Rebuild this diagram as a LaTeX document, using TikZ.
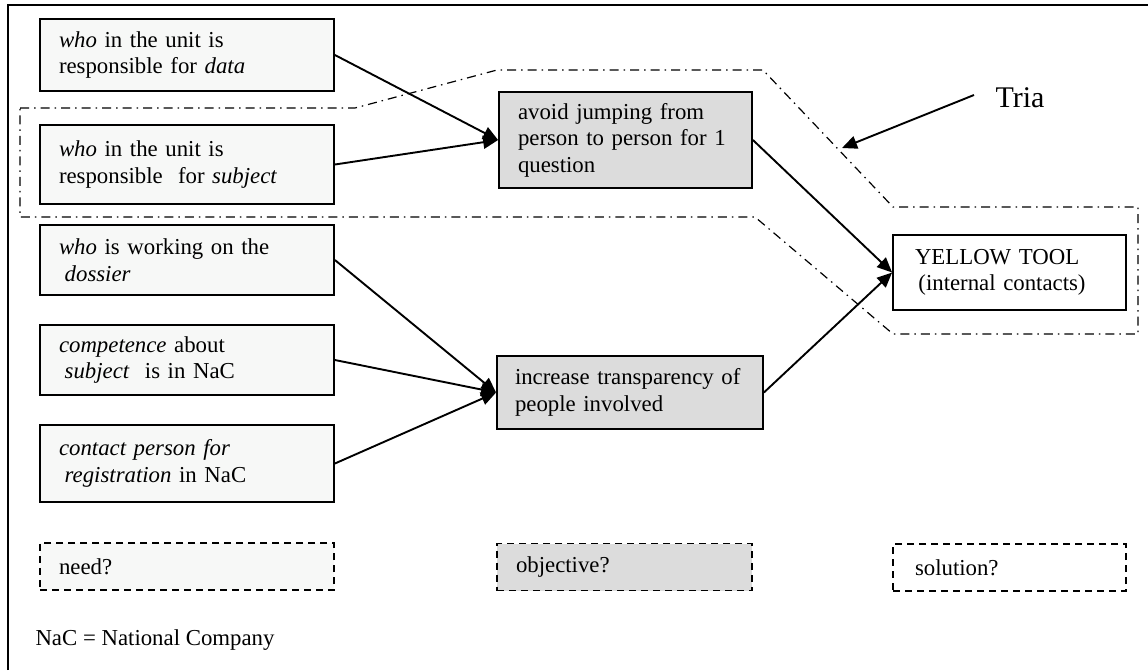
\documentclass[tikz,border=0pt]{standalone}
\usepackage{fontspec}
\setmainfont{Liberation Serif}
\usepackage{xcolor}
\usetikzlibrary{arrows.meta}
\definecolor{needgray}{HTML}{F7F8F7}
\definecolor{goalgray}{HTML}{DCDCDC}

\begin{document}
\begin{tikzpicture}[x=1pt,y=-1pt,
    every node/.style={font=\fontsize{22.8}{26.5}\selectfont},
    need/.style={draw,line width=1.8pt,fill=needgray,text width=256pt,inner xsep=19pt,inner ysep=4pt,align=left},
    goal/.style={draw,line width=1.8pt,fill=goalgray,inner xsep=19pt,inner ysep=4pt,align=left},
    tool/.style={draw,line width=1.8pt,fill=white,inner xsep=22pt,inner ysep=4pt,align=left},
    hint/.style={dash pattern=on 7pt off 5pt},
    flow/.style={line width=1.9pt,-{Triangle[length=15pt,width=13pt]}},
    group/.style={line width=1.2pt,dash pattern=on 9pt off 5pt on 1.5pt off 5pt}]
    \useasboundingbox (0,0) rectangle (1148,670);
    \draw[line width=1.8pt] (8,670) -- (8,5) -- (1148,5);
    % the Tria group
    \draw[group] (20,108) -- (355,108) -- (497,70) -- (763,70) -- (893,207) -- (1138,207)
        -- (1138,334) -- (893,334) -- (755,217) -- (20,217) -- cycle;
    \coordinate (edge) at (842,148);
    % needs
    \node[need,minimum height=72pt] (data) at (187,55) {\textit{who} in the unit is\\responsible for \textit{data}};
    \node[need,minimum height=79pt] (subj) at (187,164.5) {\textit{who} in the unit is\\responsible\ \ for \textit{subject}};
    \node[need,minimum height=70pt] (doss) at (187,260) {\textit{who} is working on the\\\hspace*{0.25em}\textit{dossier}};
    \node[need,minimum height=70pt] (comp) at (187,360) {\textit{competence} about\\\hspace*{0.25em}\textit{subject}\ \ is in NaC};
    \node[need,minimum height=77pt] (regi) at (187,463.5) {\textit{contact person for}\\\hspace*{0.25em}\textit{registration} in NaC};
    % objectives
    \node[goal,text width=215pt,minimum height=96pt] (jump) at (625.5,140) {avoid jumping from\\person to person for 1\\question};
    \node[goal,text width=230pt,inner xsep=18pt,minimum height=73pt] (tran) at (630,392.5) {increase transparency of\\people involved};
    % solution
    \node[tool,text width=189pt,minimum height=75pt] (yell) at (1009.5,272.5) {YELLOW TOOL\\\hspace*{0.15em}(internal contacts)};
    \node[font=\fontsize{30}{34}\selectfont] (tria) at (1020,98) {Tria};
    % legend
    \node[need,hint,minimum height=47pt] (need) at (187,566.5) {need?};
    \node[goal,hint,text width=217pt,minimum height=47pt] (obje) at (624.5,567) {objective?};
    \node[tool,hint,text width=189pt,minimum height=47pt] (solu) at (1009.5,567.5) {solution?};
    \node[anchor=west] (nac) at (32,640) {NaC = National Company};
    % arrows
    \draw[flow] (data.east) -- (jump.west);
    \draw[flow] (subj.east) -- (jump.west);
    \draw[flow] (doss.east) -- (tran.west);
    \draw[flow] (comp.east) -- (tran.west);
    \draw[flow] (regi.east) -- (tran.west);
    \draw[flow] (jump.east) -- (yell.west);
    \draw[flow] (tran.east) -- (yell.west);
    \draw[flow] (tria.west) ++(-18,-3) -- (edge);
\end{tikzpicture}
\end{document}
